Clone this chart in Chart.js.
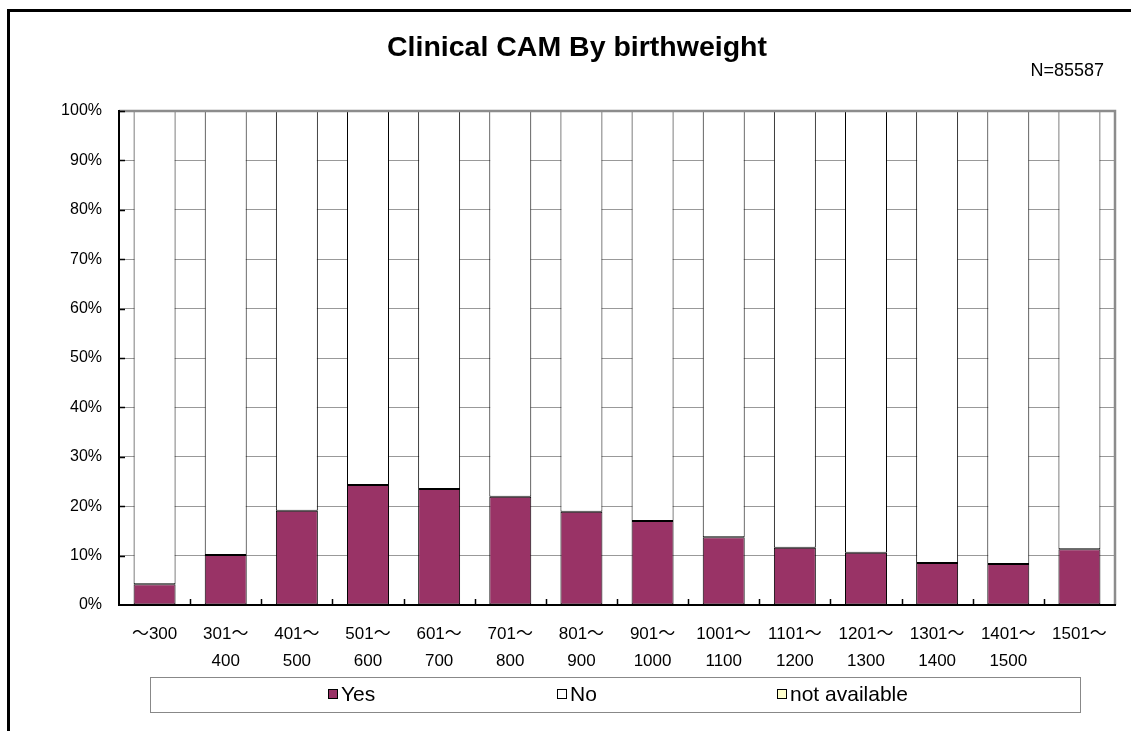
<!DOCTYPE html>
<html>
<head>
<meta charset="utf-8">
<script src="https://cdn.jsdelivr.net/npm/chart.js@4"></script>
<style>
html,body{margin:0;padding:0;background:#fff;}
#wrap{width:1131px;height:731px;position:relative;}
</style>
</head>
<body>
<div id="wrap"><canvas id="c" width="1131" height="731"></canvas></div>
<script>
const categories = [["～300"],["301～","400"],["401～","500"],["501～","600"],["601～","700"],["701～","800"],["801～","900"],["901～","1000"],["1001～","1100"],["1101～","1200"],["1201～","1300"],["1301～","1400"],["1401～","1500"],["1501～"]];
const yesValues = [4.2, 10.1, 19.1, 24.3, 23.5, 21.9, 18.9, 17.0, 13.7, 11.6, 10.6, 8.5, 8.3, 11.3];
const noValues = [95.8, 89.9, 80.9, 75.7, 76.5, 78.1, 81.1, 83.0, 86.3, 88.4, 89.4, 91.5, 91.7, 88.7];
const naValues = [0, 0, 0, 0, 0, 0, 0, 0, 0, 0, 0, 0, 0, 0];
const seriesNames = ["Yes", "No", "not available"];
const titleText = "Clinical CAM By birthweight";
const nText = "N=85587";

const FONT = "'Liberation Sans', 'Noto Sans CJK JP', Arial, sans-serif";

const decor = {
  id: 'decor',
  beforeDraw(chart) {
    const ctx = chart.ctx;
    ctx.save();
    ctx.fillStyle = '#fff';
    ctx.fillRect(0, 0, chart.width, chart.height);
    ctx.strokeStyle = '#000';
    ctx.lineWidth = 3;
    ctx.beginPath();
    ctx.moveTo(8.5, 740);
    ctx.lineTo(8.5, 10.5);
    ctx.lineTo(1140, 10.5);
    ctx.stroke();
    ctx.restore();
  },
  afterDatasetsDraw(chart) {
    const ctx = chart.ctx;
    const a = chart.chartArea;
    const x = chart.scales.x, y = chart.scales.y;
    ctx.save();
    ctx.strokeStyle = '#8c8c8c';
    ctx.lineWidth = 2.5;
    ctx.beginPath();
    ctx.moveTo(a.left, a.top);
    ctx.lineTo(a.right, a.top);
    ctx.lineTo(a.right, a.bottom);
    ctx.stroke();
    ctx.strokeStyle = '#000';
    ctx.lineWidth = 2;
    ctx.beginPath();
    ctx.moveTo(a.left, a.top - 1);
    ctx.lineTo(a.left, a.bottom);
    ctx.lineTo(a.right + 1, a.bottom);
    ctx.stroke();
    ctx.lineWidth = 1.5;
    ctx.beginPath();
    const n = chart.data.labels.length;
    for (let i = 1; i < n; i++) {
      const px = Math.round((x.getPixelForValue(i - 1) + x.getPixelForValue(i)) / 2) + 0.5;
      ctx.moveTo(px, a.bottom);
      ctx.lineTo(px, a.bottom - 6);
    }
    for (let v = 10; v <= 100; v += 10) {
      const py = Math.round(y.getPixelForValue(v)) + 0.5;
      ctx.moveTo(a.left, py);
      ctx.lineTo(a.left + 6, py);
    }
    ctx.stroke();
    ctx.restore();
  },
  afterDraw(chart) {
    const ctx = chart.ctx;
    ctx.save();
    ctx.fillStyle = '#000';
    ctx.textAlign = 'center';
    ctx.textBaseline = 'middle';
    let size = 20;
    for (; size < 40; size += 0.5) {
      ctx.font = "bold " + size + "px " + FONT;
      if (ctx.measureText(titleText).width >= 377) break;
    }
    ctx.fillText(titleText, 577, 48);
    ctx.font = "18px " + FONT;
    ctx.textAlign = 'right';
    ctx.fillText(nText, 1104, 71);
    ctx.strokeStyle = '#888';
    ctx.lineWidth = 1;
    ctx.strokeRect(150.5, 677.5, 930, 35);
    const xs = [328, 557, 777];
    ctx.font = "21px " + FONT;
    ctx.textAlign = 'left';
    chart.data.datasets.forEach((ds, i) => {
      ctx.fillStyle = ds.backgroundColor;
      ctx.fillRect(xs[i] + 0.5, 689.5, 9, 9);
      ctx.strokeStyle = '#000';
      ctx.lineWidth = 1;
      ctx.strokeRect(xs[i] + 0.5, 689.5, 9, 9);
      ctx.fillStyle = '#000';
      ctx.fillText(ds.label, xs[i] + 13, 695);
    });
    ctx.restore();
  }
};

new Chart(document.getElementById('c'), {
  type: 'bar',
  data: {
    labels: categories,
    datasets: [
      { label: seriesNames[0], data: yesValues, backgroundColor: '#993366', borderColor: '#000', borderWidth: 1, borderSkipped: false },
      { label: seriesNames[1], data: noValues, backgroundColor: '#ffffff', borderColor: '#000', borderWidth: 1, borderSkipped: false },
      { label: seriesNames[2], data: naValues, backgroundColor: '#ffffcc', borderColor: '#000', borderWidth: 0, borderSkipped: false }
    ]
  },
  options: {
    responsive: false,
    animation: false,
    devicePixelRatio: 1,
    layout: { padding: { left: 0, right: 16, top: 111, bottom: 0 } },
    plugins: {
      legend: { display: false },
      title: { display: false },
      tooltip: { enabled: false }
    },
    datasets: { bar: { categoryPercentage: 1.0, barPercentage: 0.59 } },
    scales: {
      x: {
        stacked: true,
        grid: { display: false, drawTicks: false },
        border: { display: false },
        ticks: { color: '#000', font: { family: FONT, size: 17, lineHeight: 1.6 }, padding: 16, maxRotation: 0, autoSkip: false },
        afterFit(s) { s.height = 126; }
      },
      y: {
        stacked: true,
        min: 0, max: 100,
        grid: { color: '#999', lineWidth: 1, drawTicks: false },
        border: { display: false },
        ticks: { stepSize: 10, color: '#000', font: { family: FONT, size: 16 }, padding: 17, callback: v => v + '%' },
        afterFit(s) { s.width = 119; }
      }
    }
  },
  plugins: [decor]
});
</script>
</body>
</html>
